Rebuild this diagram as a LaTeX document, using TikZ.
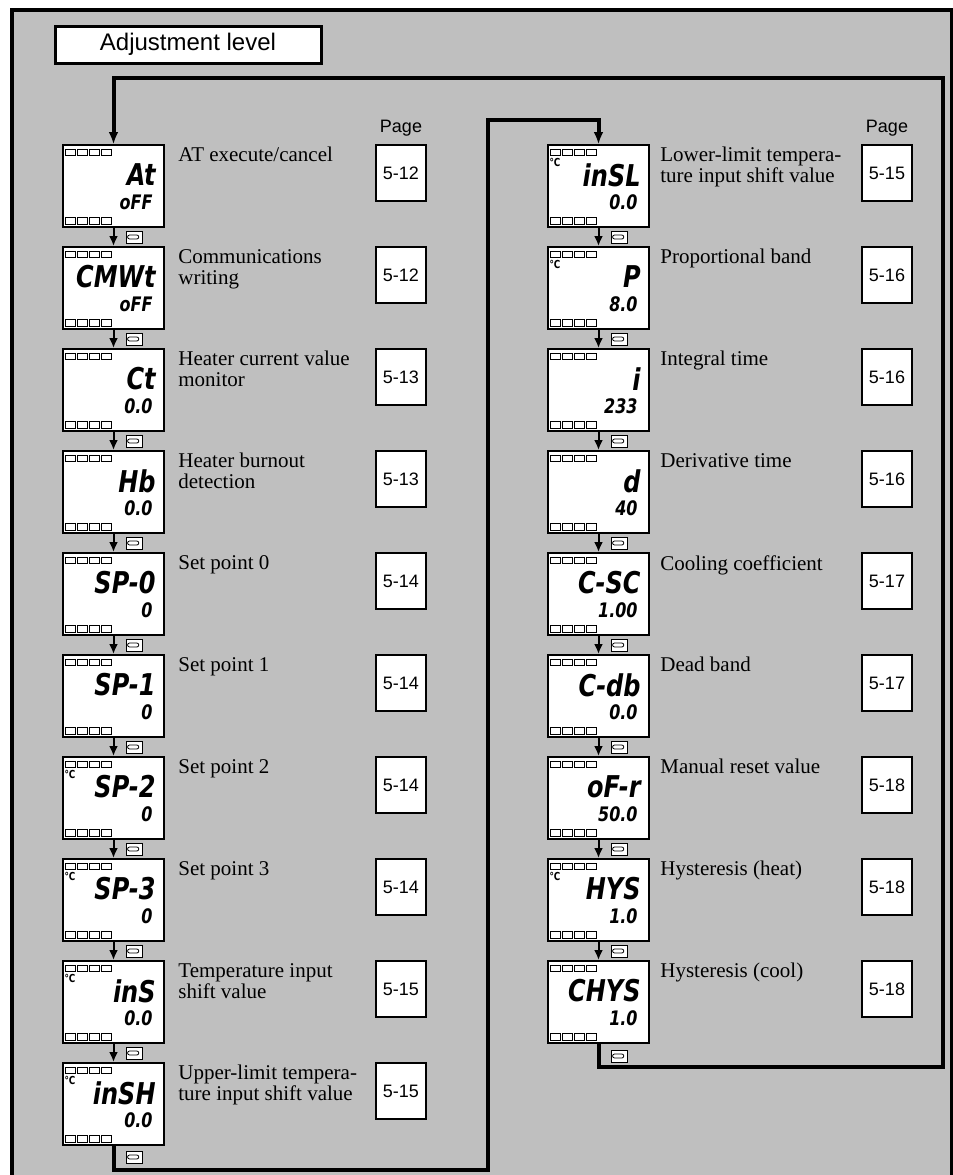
\documentclass[tikz,border=0pt]{standalone}
\usepackage{fontspec}
\setmainfont{Liberation Serif}
\setsansfont{Liberation Sans}
\newfontfamily\segfont{DejaVu Sans}[FakeStretch=0.8]
\usepackage{tikz}
\usetikzlibrary{arrows.meta}

% the little lamps above and below each read-out
\newcommand\lcdmarks{%
  \foreach \i in {0,...,3}{%
    \draw[line width=.5pt] ([xshift={1.2pt+6pt*\i},yshift=-2pt]path picture bounding box.north west) rectangle ++(5pt,-3.2pt);
    \draw[line width=.5pt] ([xshift={1.2pt+6pt*\i},yshift=1.5pt]path picture bounding box.south west) rectangle ++(5pt,3.2pt);
  }}

\begin{document}
\begin{tikzpicture}[x=0.5pt,y=-0.5pt,line join=miter,
  disp/.style={draw,line width=1pt,fill=white,minimum width=50.5pt,minimum height=41pt,inner sep=0pt,path picture={\lcdmarks}},
  seg/.style={anchor=east,inner sep=0pt,font=\segfont\bfseries\itshape\fontsize{15}{15}\selectfont},
  val/.style={anchor=east,inner sep=0pt,font=\segfont\bfseries\itshape\fontsize{10}{10}\selectfont},
  unit/.style={inner sep=0pt,font=\segfont\bfseries\fontsize{5.5}{5.5}\selectfont},
  lbl/.style={anchor=north west,inner sep=0pt,align=left,font=\fontsize{10.5}{10.4}\selectfont},
  pagebox/.style={draw,line width=1pt,fill=white,minimum width=25pt,minimum height=28pt,inner sep=0pt,font=\sffamily\fontsize{9}{9}\selectfont},
  pagehd/.style={inner sep=0pt,font=\sffamily\fontsize{9}{9}\selectfont},
  title/.style={draw,line width=1.5pt,fill=white,minimum width=133pt,minimum height=18.5pt,inner sep=0pt,font=\sffamily\fontsize{12}{12}\selectfont},
  key/.style={draw,line width=.5pt,fill=white,minimum width=8pt,minimum height=6pt,inner sep=0pt,
    path picture={\draw[line width=.4pt] ([xshift=-2.2pt,yshift=-1pt]path picture bounding box.center) -- ++(3.6pt,0) arc[start angle=-90,end angle=90,radius=1pt] -- ++(-3.6pt,0) arc[start angle=90,end angle=270,radius=1pt];}},
  flow/.style={line width=1pt,-{Latex[length=5pt,width=4.5pt]}},
  loopline/.style={line width=2pt,-{Latex[length=6pt,width=5pt]}}]
\useasboundingbox (0,0) rectangle (953,1175);
% panel
\fill[black!25] (12,10) rectangle (952,1180);
\draw[line width=1.75pt] (12,1180) -- (12,10) -- (952,10) -- (952,1180);
\node[title] (lvl) at (188,44.5) {Adjustment level};
\node[pagehd] (pgL) at (401,128) {Page};
\node[pagehd] (pgR) at (887,128) {Page};
% left column
\node[disp] (d1) at (113.5,186) {};
\node[seg] (d1s) at (156,175) {At};
\node[val] (d1v) at (153,202) {oFF};
\node[lbl] (d1t) at (178,147) {AT execute/cancel};
\node[pagebox] (d1p) at (401,173) {5-12};
\node[disp] (d2) at (113.5,288) {};
\node[seg] (d2s) at (156,277) {CMWt};
\node[val] (d2v) at (153,304) {oFF};
\node[lbl] (d2t) at (178,249) {Communications\\writing};
\node[pagebox] (d2p) at (401,275) {5-12};
\node[disp] (d3) at (113.5,390) {};
\node[seg] (d3s) at (156,379) {Ct};
\node[val] (d3v) at (153,406) {0.0};
\node[lbl] (d3t) at (178,351) {Heater current value\\monitor};
\node[pagebox] (d3p) at (401,377) {5-13};
\node[disp] (d4) at (113.5,492) {};
\node[seg] (d4s) at (156,481) {Hb};
\node[val] (d4v) at (153,508) {0.0};
\node[lbl] (d4t) at (178,453) {Heater burnout\\detection};
\node[pagebox] (d4p) at (401,479) {5-13};
\node[disp] (d5) at (113.5,594) {};
\node[seg] (d5s) at (156,583) {SP-0};
\node[val] (d5v) at (153,610) {0};
\node[lbl] (d5t) at (178,555) {Set point 0};
\node[pagebox] (d5p) at (401,581) {5-14};
\node[disp] (d6) at (113.5,696) {};
\node[seg] (d6s) at (156,685) {SP-1};
\node[val] (d6v) at (153,712) {0};
\node[lbl] (d6t) at (178,657) {Set point 1};
\node[pagebox] (d6p) at (401,683) {5-14};
\node[disp] (d7) at (113.5,798) {};
\node[unit] (d7u) at (70,774) {°C};
\node[seg] (d7s) at (156,787) {SP-2};
\node[val] (d7v) at (153,814) {0};
\node[lbl] (d7t) at (178,759) {Set point 2};
\node[pagebox] (d7p) at (401,785) {5-14};
\node[disp] (d8) at (113.5,900) {};
\node[unit] (d8u) at (70,876) {°C};
\node[seg] (d8s) at (156,889) {SP-3};
\node[val] (d8v) at (153,916) {0};
\node[lbl] (d8t) at (178,861) {Set point 3};
\node[pagebox] (d8p) at (401,887) {5-14};
\node[disp] (d9) at (113.5,1002) {};
\node[unit] (d9u) at (70,978) {°C};
\node[seg] (d9s) at (156,991) {inS};
\node[val] (d9v) at (153,1018) {0.0};
\node[lbl] (d9t) at (178,963) {Temperature input\\shift value};
\node[pagebox] (d9p) at (401,989) {5-15};
\node[disp] (d10) at (113.5,1104) {};
\node[unit] (d10u) at (70,1080) {°C};
\node[seg] (d10s) at (156,1093) {inSH};
\node[val] (d10v) at (153,1120) {0.0};
\node[lbl] (d10t) at (178,1065) {Upper-limit tempera-\\ture input shift value};
\node[pagebox] (d10p) at (401,1091) {5-15};
% right column
\node[disp] (r1) at (598.5,186) {};
\node[unit] (r1u) at (555,162) {°C};
\node[seg] (r1s) at (641,175) {inSL};
\node[val] (r1v) at (638,202) {0.0};
\node[lbl] (r1t) at (660,147) {Lower-limit tempera-\\ture input shift value};
\node[pagebox] (r1p) at (887,173) {5-15};
\node[disp] (r2) at (598.5,288) {};
\node[unit] (r2u) at (555,264) {°C};
\node[seg] (r2s) at (641,277) {P};
\node[val] (r2v) at (638,304) {8.0};
\node[lbl] (r2t) at (660,249) {Proportional band};
\node[pagebox] (r2p) at (887,275) {5-16};
\node[disp] (r3) at (598.5,390) {};
\node[seg] (r3s) at (641,379) {i};
\node[val] (r3v) at (638,406) {233};
\node[lbl] (r3t) at (660,351) {Integral time};
\node[pagebox] (r3p) at (887,377) {5-16};
\node[disp] (r4) at (598.5,492) {};
\node[seg] (r4s) at (641,481) {d};
\node[val] (r4v) at (638,508) {40};
\node[lbl] (r4t) at (660,453) {Derivative time};
\node[pagebox] (r4p) at (887,479) {5-16};
\node[disp] (r5) at (598.5,594) {};
\node[seg] (r5s) at (641,583) {C-SC};
\node[val] (r5v) at (638,610) {1.00};
\node[lbl] (r5t) at (660,555) {Cooling coefficient};
\node[pagebox] (r5p) at (887,581) {5-17};
\node[disp] (r6) at (598.5,696) {};
\node[seg] (r6s) at (641,685) {C-db};
\node[val] (r6v) at (638,712) {0.0};
\node[lbl] (r6t) at (660,657) {Dead band};
\node[pagebox] (r6p) at (887,683) {5-17};
\node[disp] (r7) at (598.5,798) {};
\node[seg] (r7s) at (641,787) {oF-r};
\node[val] (r7v) at (638,814) {50.0};
\node[lbl] (r7t) at (660,759) {Manual reset value};
\node[pagebox] (r7p) at (887,785) {5-18};
\node[disp] (r8) at (598.5,900) {};
\node[unit] (r8u) at (555,876) {°C};
\node[seg] (r8s) at (641,889) {HYS};
\node[val] (r8v) at (638,916) {1.0};
\node[lbl] (r8t) at (660,861) {Hysteresis (heat)};
\node[pagebox] (r8p) at (887,887) {5-18};
\node[disp] (r9) at (598.5,1002) {};
\node[seg] (r9s) at (641,991) {CHYS};
\node[val] (r9v) at (638,1018) {1.0};
\node[lbl] (r9t) at (660,963) {Hysteresis (cool)};
\node[pagebox] (r9p) at (887,989) {5-18};
% key marks
\node[key] (k1) at (134,237) {};
\node[key] (k2) at (134,339) {};
\node[key] (k3) at (134,441) {};
\node[key] (k4) at (134,543) {};
\node[key] (k5) at (134,645) {};
\node[key] (k6) at (134,747) {};
\node[key] (k7) at (134,849) {};
\node[key] (k8) at (134,951) {};
\node[key] (k9) at (134,1053) {};
\node[key] (k10) at (134,1157) {};
\node[key] (q1) at (619,237) {};
\node[key] (q2) at (619,339) {};
\node[key] (q3) at (619,441) {};
\node[key] (q4) at (619,543) {};
\node[key] (q5) at (619,645) {};
\node[key] (q6) at (619,747) {};
\node[key] (q7) at (619,849) {};
\node[key] (q8) at (619,951) {};
\node[key] (q9) at (619,1056) {};
% steps
\draw[flow] (d1) -- (d2);
\draw[flow] (d2) -- (d3);
\draw[flow] (d3) -- (d4);
\draw[flow] (d4) -- (d5);
\draw[flow] (d5) -- (d6);
\draw[flow] (d6) -- (d7);
\draw[flow] (d7) -- (d8);
\draw[flow] (d8) -- (d9);
\draw[flow] (d9) -- (d10);
\draw[flow] (r1) -- (r2);
\draw[flow] (r2) -- (r3);
\draw[flow] (r3) -- (r4);
\draw[flow] (r4) -- (r5);
\draw[flow] (r5) -- (r6);
\draw[flow] (r6) -- (r7);
\draw[flow] (r7) -- (r8);
\draw[flow] (r8) -- (r9);
% return lines
\coordinate (c1) at (488,1170);
\coordinate (c2) at (488,120);
\coordinate (c3) at (943,1067);
\coordinate (c4) at (943,78);
\draw[loopline] (d10.south) |- (c1) -- (c2) -| (r1.north);
\draw[loopline] (r9.south) |- (c3) -- (c4) -| (d1.north);
\end{tikzpicture}
\end{document}
